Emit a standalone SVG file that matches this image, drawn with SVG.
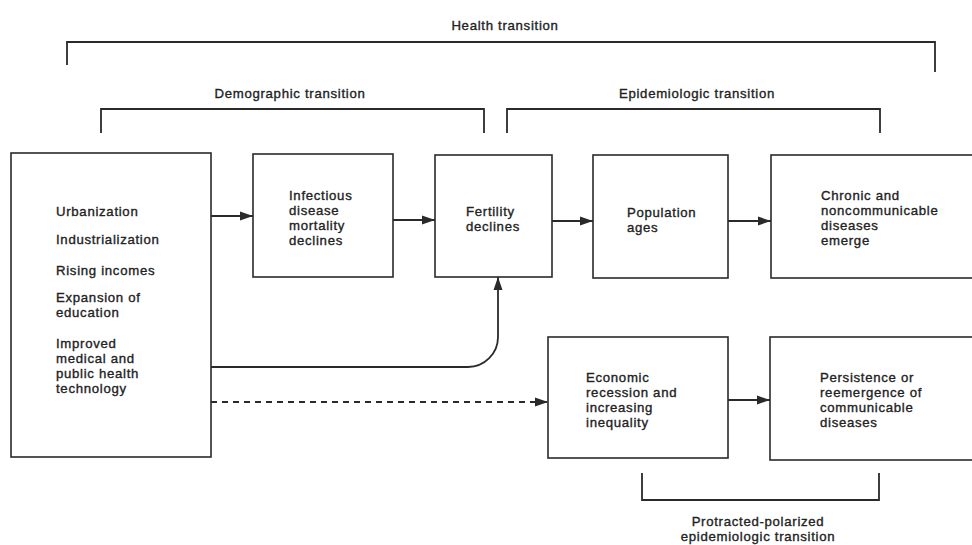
<svg xmlns="http://www.w3.org/2000/svg" width="972" height="545" viewBox="0 0 972 545">
<defs>
<style>
.box{fill:none;stroke:#2a2a2a;stroke-width:1.6}
.br{fill:none;stroke:#2a2a2a;stroke-width:1.8}
.ln{fill:none;stroke:#2a2a2a;stroke-width:1.8}
.dash{fill:none;stroke:#2a2a2a;stroke-width:1.8;stroke-dasharray:6,5}
text{font-family:"Liberation Sans",Arial,sans-serif;font-size:13.2px;letter-spacing:0.7px;fill:#222;stroke:#222;stroke-width:0.35}
.c{text-anchor:middle}
</style>
<marker id="ah" markerWidth="14" markerHeight="10" refX="13" refY="5" orient="auto" markerUnits="userSpaceOnUse">
<path d="M0,0.5 L13,5 L0,9.5 Z" fill="#2a2a2a"/>
</marker>
</defs>
<rect width="972" height="545" fill="#ffffff"/>

<g id="brackets">
<text class="c" x="505" y="30">Health transition</text>
<path class="br" d="M67,65 V42 H935 V72"/>
<text class="c" x="290" y="98">Demographic transition</text>
<path class="br" d="M101,133 V109 H484 V133"/>
<text class="c" x="697" y="98">Epidemiologic transition</text>
<path class="br" d="M507,133 V109 H880 V133"/>
<path class="br" d="M642,473 V500 H879 V473"/>
<text class="c" x="758" y="526">Protracted-polarized</text>
<text class="c" x="758" y="541">epidemiologic transition</text>
</g>

<g id="n-drivers">
<rect class="box" x="11" y="153" width="200" height="304"/>
<text x="56" y="216">Urbanization</text>
<text x="56" y="244">Industrialization</text>
<text x="56" y="275">Rising incomes</text>
<text x="56" y="302">Expansion of</text>
<text x="56" y="317">education</text>
<text x="56" y="348">Improved</text>
<text x="56" y="363">medical and</text>
<text x="56" y="378">public health</text>
<text x="56" y="393">technology</text>
</g>

<g id="n-infectious">
<rect class="box" x="253" y="154" width="140" height="123"/>
<text x="289" y="200">Infectious</text>
<text x="289" y="215">disease</text>
<text x="289" y="230">mortality</text>
<text x="289" y="245">declines</text>
</g>

<g id="n-fertility">
<rect class="box" x="435" y="155" width="117" height="122"/>
<text x="466" y="216">Fertility</text>
<text x="466" y="231">declines</text>
</g>

<g id="n-population">
<rect class="box" x="593" y="155" width="135" height="123"/>
<text x="627" y="217">Population</text>
<text x="627" y="232">ages</text>
</g>

<g id="n-chronic">
<rect class="box" x="771" y="155" width="210" height="123"/>
<text x="821" y="200">Chronic and</text>
<text x="821" y="215">noncommunicable</text>
<text x="821" y="230">diseases</text>
<text x="821" y="245">emerge</text>
</g>

<g id="n-economic">
<rect class="box" x="548" y="337" width="180" height="121"/>
<text x="586" y="382">Economic</text>
<text x="586" y="397">recession and</text>
<text x="586" y="412">increasing</text>
<text x="586" y="427">inequality</text>
</g>

<g id="n-persistence">
<rect class="box" x="770" y="337" width="211" height="123"/>
<text x="820" y="382">Persistence or</text>
<text x="820" y="397">reemergence of</text>
<text x="820" y="412">communicable</text>
<text x="820" y="427">diseases</text>
</g>

<g id="connectors">
<line class="ln" x1="211" y1="216" x2="253" y2="216" marker-end="url(#ah)"/>
<line class="ln" x1="393" y1="220" x2="435" y2="220" marker-end="url(#ah)"/>
<line class="ln" x1="552" y1="221" x2="593" y2="221" marker-end="url(#ah)"/>
<line class="ln" x1="728" y1="221" x2="771" y2="221" marker-end="url(#ah)"/>
<path class="ln" d="M211,367 H468 A30,30 0 0 0 498,337 V277" marker-end="url(#ah)"/>
<line class="dash" x1="211" y1="402" x2="548" y2="402" marker-end="url(#ah)"/>
<line class="ln" x1="728" y1="400" x2="770" y2="400" marker-end="url(#ah)"/>
</g>
</svg>
